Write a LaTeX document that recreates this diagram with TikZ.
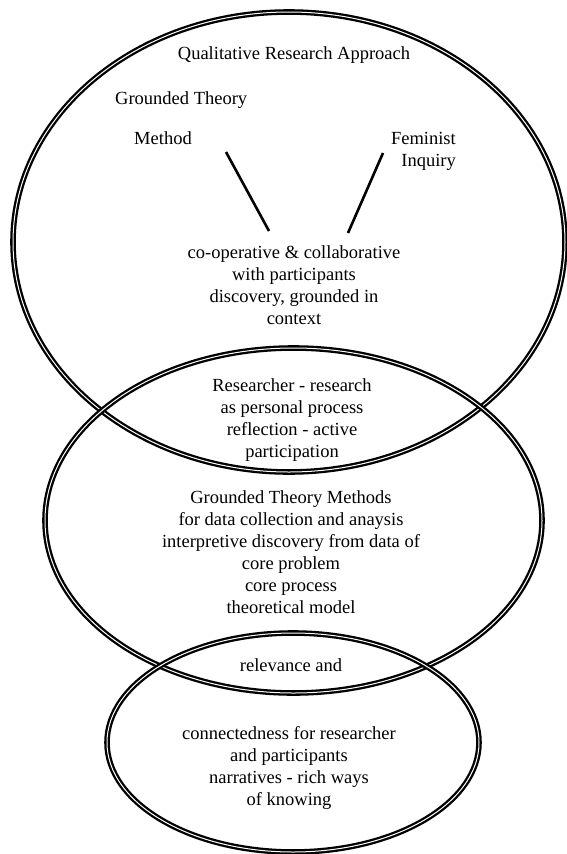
\documentclass[tikz,border=0pt]{standalone}
\usepackage{fontspec}
\setmainfont{Liberation Serif}
\begin{document}
\begin{tikzpicture}[x=1pt, y=-1pt,
    ring/.style={line width=2.3pt, double, double distance=1pt},
    txt/.style={font=\fontsize{18.5}{22}\selectfont, inner sep=0pt, align=center},
    spoke/.style={line width=2.6pt}]
  \useasboundingbox (0,0) rectangle (567,854);

  % three overlapping rings
  \draw[ring] (289,242) ellipse [x radius=276pt, y radius=230pt];
  \draw[ring] (293.5,520.5) ellipse [x radius=248.5pt, y radius=172.5pt];
  \draw[ring] (293,742.5) ellipse [x radius=186pt, y radius=109.5pt];

  % top ring (base = last line)
  \node[txt, anchor=base] (qra) at (294,59) {Qualitative Research Approach};
  \node[txt, anchor=base west] (gt) at (115,104) {Grounded Theory};
  \node[txt, anchor=base west] (meth) at (134,144) {Method};
  \node[txt, anchor=base east, align=right] (fem) at (456,166) {Feminist\\Inquiry};
  \node[txt, anchor=base] (coop) at (294,324)
    {co-operative \& collaborative\\with participants\\discovery, grounded in\\context};

  \coordinate (m1) at (226,152);
  \coordinate (m2) at (269,231);
  \coordinate (f1) at (383,153);
  \coordinate (f2) at (348,233);
  \draw[spoke] (m1) -- (m2);
  \draw[spoke] (f1) -- (f2);

  % overlap of top and middle
  \node[txt, anchor=base] (rsr) at (292,457)
    {Researcher - research\\as personal process\\reflection - active\\participation};

  % middle ring
  \node[txt, anchor=base] (gtm) at (291,613)
    {Grounded Theory Methods\\for data collection and anaysis\\interpretive discovery from data of\\core problem\\core process\\theoretical model};

  % overlap of middle and bottom
  \node[txt, anchor=base] (rel) at (291,671) {relevance and};

  % bottom ring
  \node[txt, anchor=base] (conn) at (289,805)
    {connectedness for researcher\\and participants\\narratives - rich ways\\of knowing};
\end{tikzpicture}
\end{document}
